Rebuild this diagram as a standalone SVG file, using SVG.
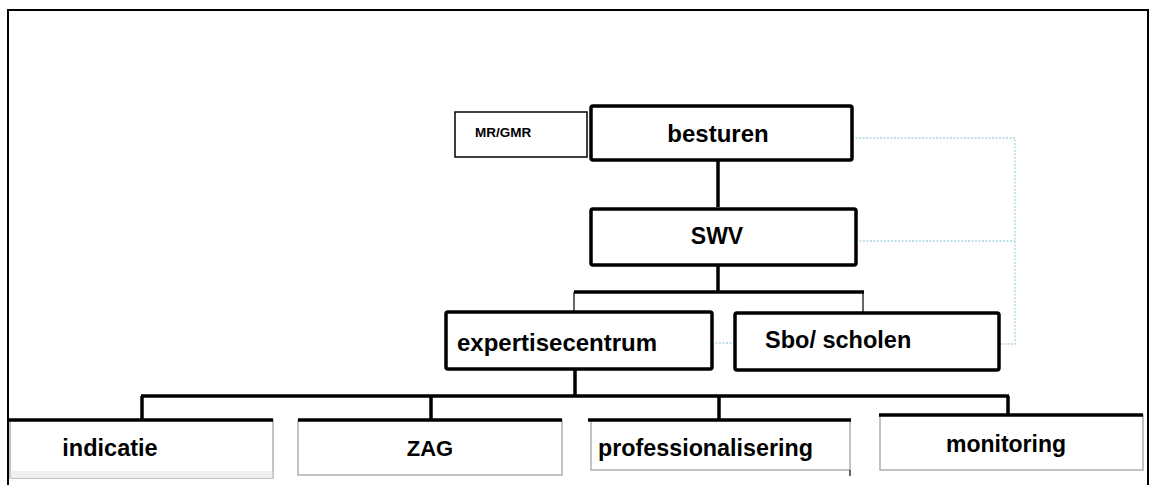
<svg xmlns="http://www.w3.org/2000/svg" width="1151" height="485" viewBox="0 0 1151 485">
<style>
text{font-family:"Liberation Sans",Arial,sans-serif;font-weight:bold;fill:#000}
.main{fill:#fff;stroke:#000;stroke-width:3.5}
.thin{fill:#fff;stroke:#000;stroke-width:1.5}
.leaf{fill:#fff;stroke:#9a9a9a;stroke-width:1.2}
.top{stroke:#000;stroke-width:3.5;fill:none}
.conn{stroke:#000;stroke-width:3.5;fill:none}
.conn-thin{stroke:#000;stroke-width:1.2;fill:none}
.dot{stroke:#a9d6de;stroke-width:1.3;stroke-dasharray:2 1.5;fill:none}
</style>
<rect width="1151" height="485" fill="#fff"/>
<path d="M8 490 V10 H1148 V490" fill="none" stroke="#000" stroke-width="2"/>
<g id="connectors">
<path class="conn" d="M718 160 V207"/>
<path class="conn" d="M718 265 V292"/>
<path class="conn" d="M574 292 H864"/>
<path class="conn-thin" d="M574 292 V317"/>
<path class="conn-thin" d="M863 292 V316"/>
<path class="conn" d="M575 369 V396"/>
<path class="conn" d="M141 396 H1009"/>
<path class="conn" d="M142 396 V420"/>
<path class="conn" d="M431 396 V420"/>
<path class="conn" d="M719 396 V420"/>
<path class="conn" d="M1008 396 V418"/>
<path class="dot" d="M852 138 H1015 V344 H999"/>
<path class="dot" d="M856 241 H1015"/>
<path class="dot" d="M712 343 H734"/>
</g>
<g id="node-mrgmr">
<rect class="thin" x="455" y="112" width="132" height="45"/>
<text x="475" y="137" font-size="13.5">MR/GMR</text>
</g>
<g id="node-besturen">
<rect class="main" x="591" y="106" width="261" height="54" rx="2"/>
<text x="718" y="142" font-size="24" text-anchor="middle">besturen</text>
</g>
<g id="node-swv">
<rect class="main" x="591" y="209" width="265" height="56" rx="2"/>
<text x="717" y="244" font-size="23" text-anchor="middle">SWV</text>
</g>
<g id="node-expertisecentrum">
<rect class="main" x="446" y="312" width="266" height="57" rx="2"/>
<text x="457" y="351" font-size="24">expertisecentrum</text>
</g>
<g id="node-sbo">
<rect class="main" x="735" y="313" width="264" height="57" rx="2"/>
<text x="765" y="348" font-size="23.5">Sbo/ scholen</text>
</g>
<g id="node-indicatie">
<rect class="leaf" x="10" y="420" width="263" height="58"/>
<rect x="10.6" y="471" width="261.8" height="7" fill="#efefef"/>
<path class="top" d="M9 420 H273"/>
<text x="110" y="456" font-size="23.5" text-anchor="middle">indicatie</text>
</g>
<g id="node-zag">
<rect class="leaf" x="298" y="420" width="264" height="55"/>
<path class="top" d="M298 420 H562"/>
<text x="430" y="456" font-size="22" text-anchor="middle">ZAG</text>
</g>
<g id="node-professionalisering">
<rect class="leaf" x="591" y="420" width="259" height="50"/>
<path class="conn-thin" d="M850 470 V476" stroke="#9a9a9a"/>
<path class="top" d="M588 420 H851"/>
<text x="598" y="456" font-size="23.3">professionalisering</text>
</g>
<g id="node-monitoring">
<rect class="leaf" x="880" y="415" width="263" height="55"/>
<path class="top" d="M879 415 H1143"/>
<text x="1006" y="452" font-size="23" text-anchor="middle">monitoring</text>
</g>
</svg>
